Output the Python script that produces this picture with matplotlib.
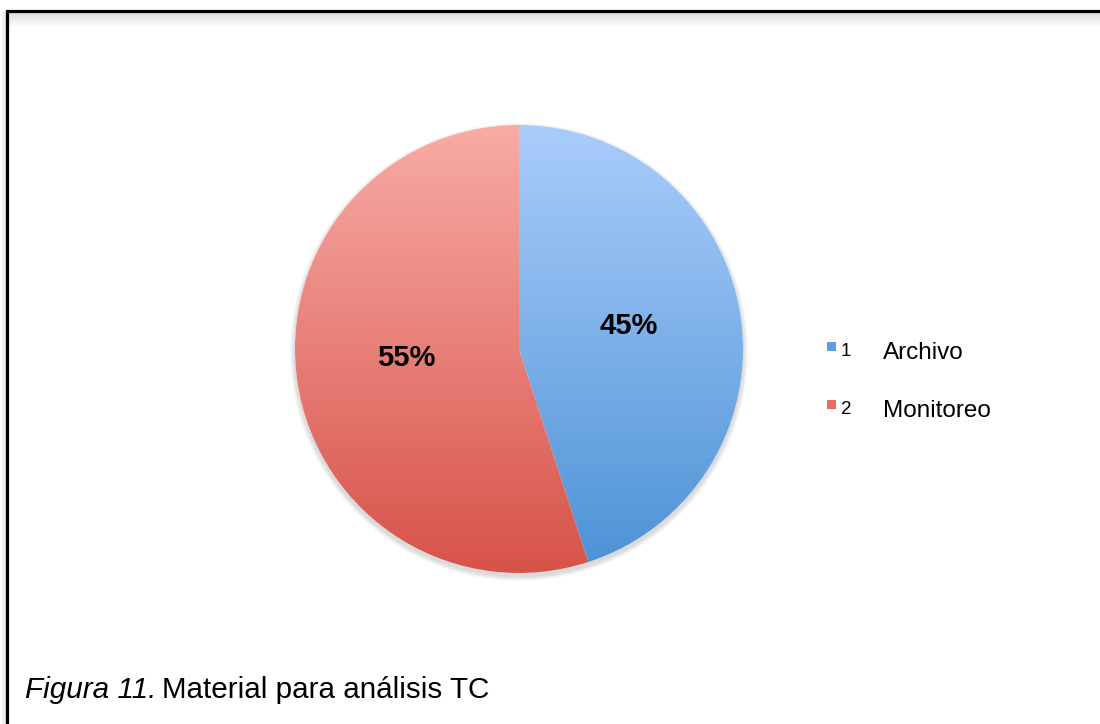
import numpy as np
import matplotlib.pyplot as plt
from matplotlib.colors import LinearSegmentedColormap
from matplotlib.patches import Rectangle, Circle

# Datos del gráfico
categorias = ['Archivo', 'Monitoreo']
numeros = ['1', '2']
valores = [45, 55]
etiquetas = ['45%', '55%']
colores_arriba = ['#aacdfb', '#f8aba6']
colores_abajo = ['#4c92d6', '#d7534a']
leyenda_color = ['#5f9de0', '#e26e66']

plt.rcParams['font.family'] = ['Liberation Sans', 'DejaVu Sans']

fig = plt.figure(figsize=(11, 7.24), dpi=100)
ax = fig.add_axes([0, 0, 1, 1])
ax.set_xlim(0, 1100)
ax.set_ylim(0, 724)
ax.axis('off')

# marco con sombra
for i in range(14):
    a = 0.13 * (1 - i / 14)
    ax.add_patch(Rectangle((9, 711 - i - 1), 1100, 1, color='black', alpha=a, lw=0))
for i in range(5):
    a = 0.10 * (1 - i / 5)
    ax.add_patch(Rectangle((5 - i, 0), 1, 712, color='black', alpha=a, lw=0))
ax.plot([7, 7, 1100], [0, 713, 713], color='black', lw=2.3, solid_joinstyle='miter')

cx, cy, r = 519, 375, 224

# sombra del pastel
for i in range(6):
    ax.add_patch(Circle((cx, cy - 3), r + 1 + i * 0.8, color='black', alpha=0.025, lw=0))

wedges, _ = ax.pie(valores, startangle=90, counterclock=False, center=(cx, cy),
                   radius=r, frame=True, wedgeprops=dict(lw=0))
ax.set_xlim(0, 1100)
ax.set_ylim(0, 724)
ax.set_aspect('equal')
ax.axis('off')

grad = np.linspace(0, 1, 256).reshape(-1, 1)
for w, c1, c2 in zip(wedges, colores_arriba, colores_abajo):
    w.set_facecolor('white')
    cmap = LinearSegmentedColormap.from_list('g', [c2, c1])
    im = ax.imshow(grad, cmap=cmap, origin='lower', aspect='auto',
                   extent=(cx - r, cx + r, cy - r, cy + r), zorder=2)
    im.set_clip_path(w)

# etiquetas de porcentaje
ax.text(629, 724 - 326, etiquetas[0], fontsize=21, fontweight='bold',
        ha='center', va='center', zorder=3)
ax.text(406, 724 - 358, etiquetas[1], fontsize=21, fontweight='bold',
        ha='center', va='center', zorder=3)

# leyenda
for i, (n, cat, col) in enumerate(zip(numeros, categorias, leyenda_color)):
    y = 724 - 353 - i * 58
    ax.add_patch(Rectangle((827, y + 2), 9, 9, color=col, lw=0))
    ax.text(841, y + 2, n, fontsize=13.5, va='center', ha='left')
    ax.text(883, y, cat, fontsize=17.5, va='center', ha='left')

# pie de figura
t1 = ax.text(25, 724 - 690, 'Figura 11.', fontsize=21.3, style='italic',
             va='center', ha='left')
fig.canvas.draw()
x1 = t1.get_window_extent().x1
ax.text(x1 + 6, 724 - 690, 'Material para análisis TC', fontsize=21.3,
        va='center', ha='left')

ax.set_xlim(0, 1100)
ax.set_ylim(0, 724)
fig.savefig('out.png', dpi=100)
